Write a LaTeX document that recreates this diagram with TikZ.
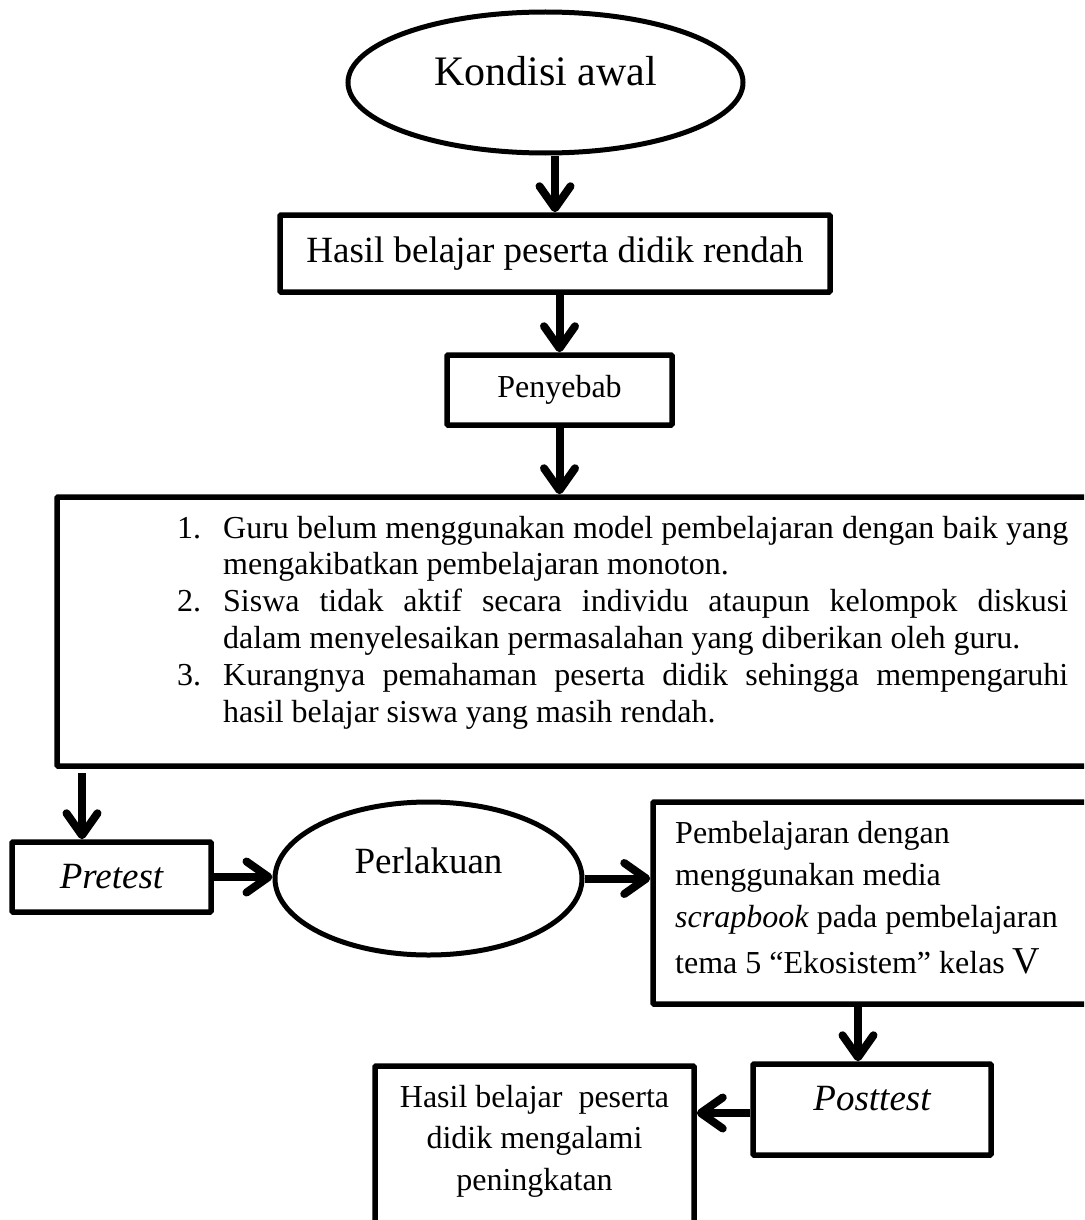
\documentclass[tikz,border=0pt]{standalone}
\usepackage{fontspec}
\setmainfont{Liberation Serif}
\usetikzlibrary{arrows.meta,shapes.geometric}
\tikzset{
  box/.style={draw, line width=5.5pt, rectangle, inner sep=0pt, rounded corners=1pt},
  oval/.style={draw, line width=5pt, ellipse, inner sep=0pt},
  arr/.style={line width=8pt, -{Straight Barb[length=22pt,width=31pt,round]}},
  txt/.style={inner sep=0pt},
}
\begin{document}
\begin{tikzpicture}[x=1pt,y=-1pt]
\useasboundingbox (0,0) rectangle (1084,1220);
\clip (0,0) rectangle (1084,1220);

\node[oval, minimum width=395pt, minimum height=141pt, text depth=23.7pt,
      font=\fontsize{42}{48}\selectfont] (kondisi) at (545.5,82.5) {Kondisi awal};

\node[box, minimum width=550pt, minimum height=77pt,
      font=\fontsize{37}{44}\selectfont] (hasil) at (555,253.5) {Hasil belajar peserta didik rendah};

\node[box, minimum width=225pt, minimum height=70pt,
      font=\fontsize{32}{38}\selectfont] (penyebab) at (559.5,390) {Penyebab};

\node[box, minimum width=1053pt, minimum height=269pt] (sebab) at (583.5,631.5) {};
\node[txt, anchor=base west, font=\fontsize{32}{36.9}\selectfont] (daftar) at (177,538) {\parbox[t]{900pt}{%
\makebox[46pt][l]{1.}\makebox[845pt][s]{Guru belum menggunakan model pembelajaran dengan baik yang}\\
\hspace*{46pt}mengakibatkan pembelajaran monoton.\\
\makebox[46pt][l]{2.}\makebox[845pt][s]{Siswa tidak aktif secara individu ataupun kelompok diskusi}\\
\hspace*{46pt}dalam menyelesaikan permasalahan yang diberikan oleh guru.\\
\makebox[46pt][l]{3.}\makebox[845pt][s]{Kurangnya pemahaman peserta didik sehingga mempengaruhi}\\
\hspace*{46pt}hasil belajar siswa yang masih rendah.}};

\node[box, minimum width=199pt, minimum height=70pt,
      font=\fontsize{37}{44}\selectfont\itshape] (pretest) at (111.5,877) {Pretest};

\node[oval, minimum width=307pt, minimum height=153pt, text depth=36pt,
      font=\fontsize{37}{44}\selectfont] (perlakuan) at (428.5,878.5) {Perlakuan};

\node[box, minimum width=457pt, minimum height=202pt] (media) at (881.5,903) {};
\node[txt, anchor=base west, font=\fontsize{32}{42}\selectfont] (mediatext) at (675,843) {\parbox[t]{420pt}{%
Pembelajaran dengan\\
menggunakan media\\
\textit{scrapbook} pada pembelajaran\\[4pt]
tema 5 “Ekosistem” kelas {\fontsize{38}{42}\selectfont V}}};

\node[box, minimum width=238pt, minimum height=91pt, text depth=23pt,
      font=\fontsize{37}{44}\selectfont\itshape] (posttest) at (872,1109.5) {Posttest};

\node[box, minimum width=319pt, minimum height=194pt] (akhir) at (534.5,1163) {};
\node[txt, anchor=base, font=\fontsize{32}{41.7}\selectfont] (akhirtext) at (534.5,1107) {\parbox[t]{310pt}{\centering
Hasil belajar\ \ peserta\\
didik mengalami\\
peningkatan}};

\draw[arr] (kondisi.south -| hasil.north) -- (hasil.north);
\draw[arr] (hasil.south -| penyebab.north) -- (penyebab.north);
\draw[arr] (penyebab.south) -- (penyebab.south |- sebab.north);
\draw[arr] ([xshift=-29.5pt,yshift=-4pt]pretest.north |- sebab.south) -- ([xshift=-29.5pt]pretest.north);
\draw[arr] (pretest.east) -- (pretest.east -| perlakuan.west);
\draw[arr] (perlakuan.east) -- (perlakuan.east -| media.west);
\draw[arr] ([xshift=-14pt]posttest.north |- media.south) -- ([xshift=-14pt]posttest.north);
\draw[arr] ([yshift=-3.5pt]posttest.west) -- ([yshift=-3.5pt]posttest.west -| akhir.east);
\end{tikzpicture}
\end{document}
